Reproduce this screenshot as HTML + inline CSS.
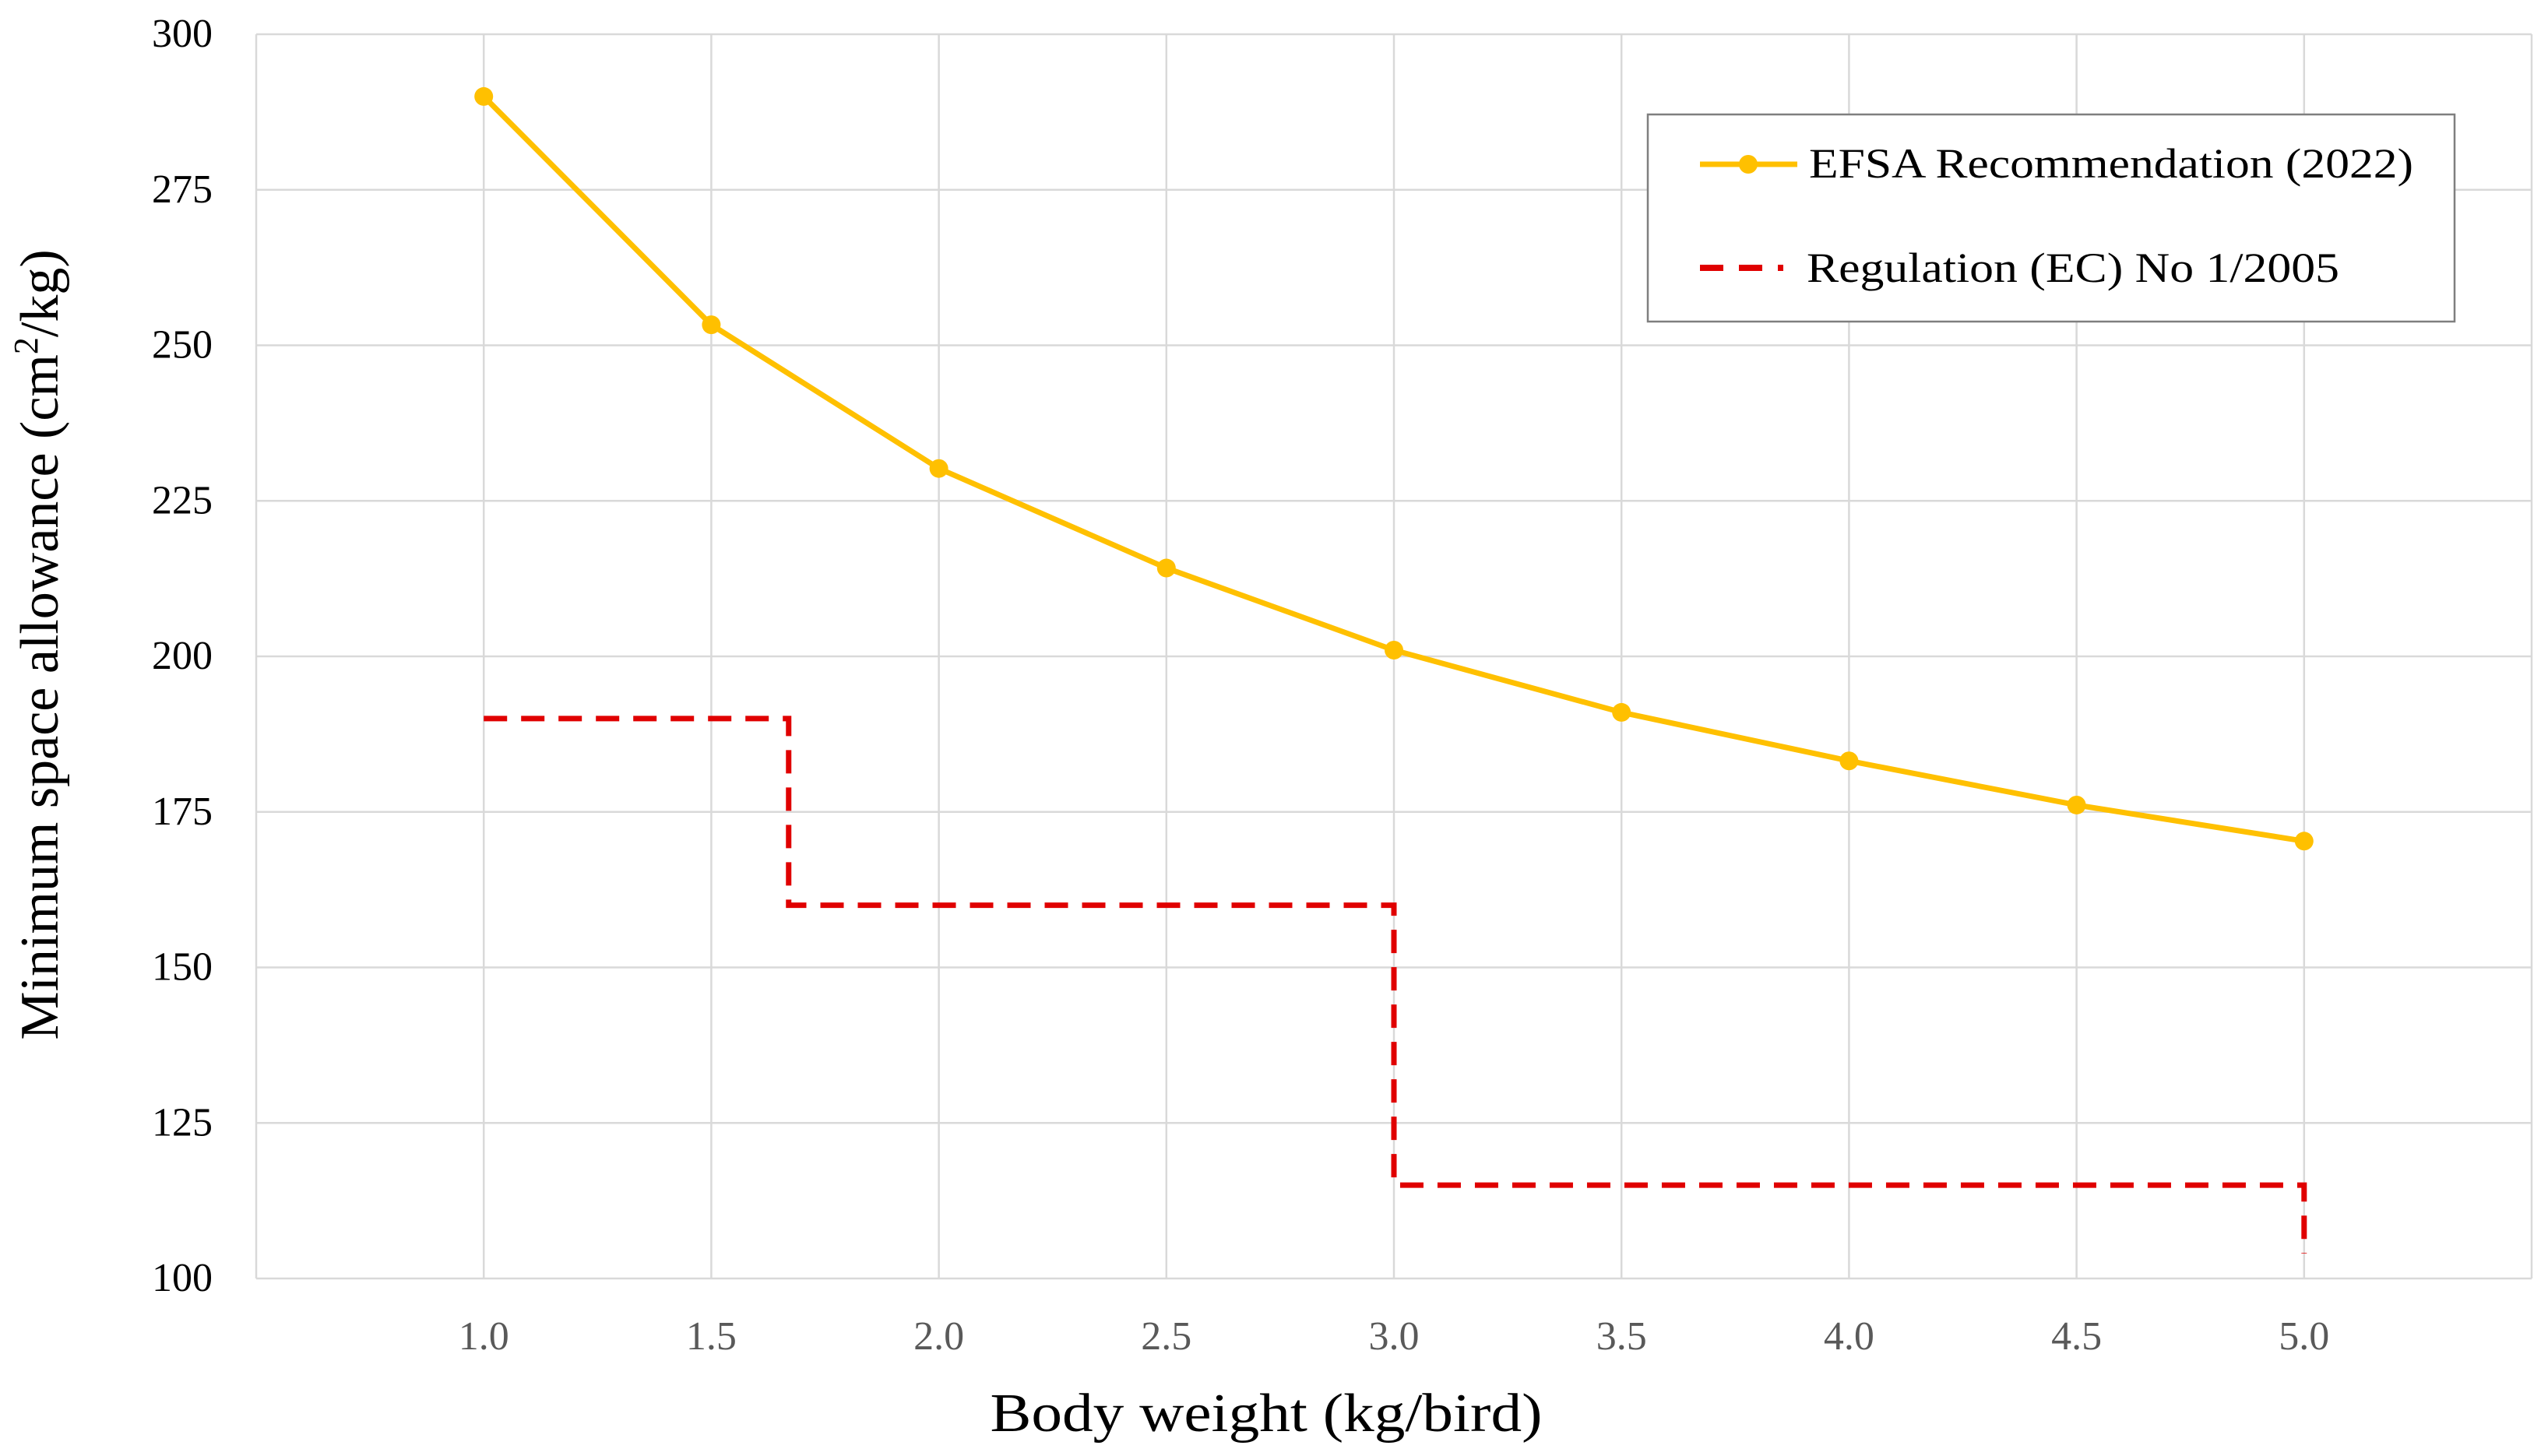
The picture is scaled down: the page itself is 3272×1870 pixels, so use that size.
<!DOCTYPE html>
<html><head><meta charset="utf-8"><style>
html,body{margin:0;padding:0;background:#fff;}
svg{display:block;font-family:"Liberation Serif",serif;}
</style></head><body>
<svg id="chart" width="3272" height="1870" viewBox="0 0 3272 1870">
<g id="grid"></g>
<g id="yticks"></g>
<g id="xticks"></g>
<g id="series"></g>
<text x="1626" y="1838" font-size="70" text-anchor="middle" textLength="709" lengthAdjust="spacingAndGlyphs" fill="#000">Body weight (kg/bird)</text>
<text transform="translate(74,828) rotate(-90)" font-size="70" text-anchor="middle" fill="#000">Minimum space allowance (cm<tspan font-size="44" dy="-26">2</tspan><tspan dy="26">/kg)</tspan></text>
<g>
<rect x="2116" y="147" width="1036" height="266" fill="#fff" stroke="#7f7f7f" stroke-width="2.5"/>
<g>
<line x1="2183" y1="211" x2="2308" y2="211" stroke="#FFC000" stroke-width="7"/>
<circle cx="2245" cy="211" r="12" fill="#FFC000"/>
<text x="2323" y="228" font-size="54" textLength="776" lengthAdjust="spacingAndGlyphs" fill="#000">EFSA Recommendation (2022)</text>
</g>
<g>
<line x1="2183" y1="344" x2="2290" y2="344" stroke="#E00000" stroke-width="8" stroke-dasharray="30,20"/>
<text x="2320" y="362" font-size="54" textLength="684" lengthAdjust="spacingAndGlyphs" fill="#000">Regulation (EC) No 1/2005</text>
</g>
</g>
</svg>
<script>
const xTicks = [1.0, 1.5, 2.0, 2.5, 3.0, 3.5, 4.0, 4.5, 5.0];
const xTickLabels = ["1.0","1.5","2.0","2.5","3.0","3.5","4.0","4.5","5.0"];
const yTicks = [100, 125, 150, 175, 200, 225, 250, 275, 300];
const efsaX = [1.0, 1.5, 2.0, 2.5, 3.0, 3.5, 4.0, 4.5, 5.0];
const efsaY = [290, 253.3, 230.2, 214.2, 201, 191, 183.2, 176.1, 170.3];
const regX = [1.0, 1.67, 1.67, 3.0, 3.0, 5.0, 5.0];
const regY = [190, 190, 160, 160, 115, 115, 104];

const X0 = 329, X1 = 3251, Y0 = 1642, Y1 = 44;
function sx(v){ return X0 + (v - 0.5) / 5 * (X1 - X0); }
function sy(v){ return Y0 - (v - 100) / 200 * (Y0 - Y1); }
const NS = "http://www.w3.org/2000/svg";
function mk(tag, attrs, parent){
  const e = document.createElementNS(NS, tag);
  for (const k in attrs) e.setAttribute(k, attrs[k]);
  parent.appendChild(e); return e;
}
const grid = document.getElementById('grid');
for (let v = 0.5; v <= 5.51; v += 0.5) {
  const l = mk('line', {x1:sx(v), x2:sx(v), y1:Y1, y2:Y0, stroke:'#d9d9d9', 'stroke-width':2.5}, grid);
  
  
}
const yt = document.getElementById('yticks');
yTicks.forEach(v => {
  const l = mk('line', {x1:X0, x2:X1, y1:sy(v), y2:sy(v), stroke:'#d9d9d9', 'stroke-width':2.5}, grid);
  
  
  const t = mk('text', {x:273, y:sy(v)+16, 'font-size':52, 'text-anchor':'end', fill:'#000'}, yt);
  t.textContent = v;
  
  
});
const xt = document.getElementById('xticks');
xTicks.forEach((v, i) => {
  const t = mk('text', {x:sx(v), y:1733, 'font-size':52, 'text-anchor':'middle', fill:'#595959'}, xt);
  t.textContent = xTickLabels[i];
  
  
});
const ser = document.getElementById('series');
const reg = mk('polyline', {points: regX.map((x,i)=>sx(x)+','+sy(regY[i])).join(' '), fill:'none', stroke:'#E00000', 'stroke-width':7, 'stroke-dasharray':'30,18'}, ser);


const ef = mk('polyline', {points: efsaX.map((x,i)=>sx(x)+','+sy(efsaY[i])).join(' '), fill:'none', stroke:'#FFC000', 'stroke-width':7, 'stroke-linejoin':'round'}, ser);


efsaX.forEach((x, i) => {
  const c = mk('circle', {cx:sx(x), cy:sy(efsaY[i]), r:12, fill:'#FFC000'}, ser);
  
  
});
</script>
</body></html>
